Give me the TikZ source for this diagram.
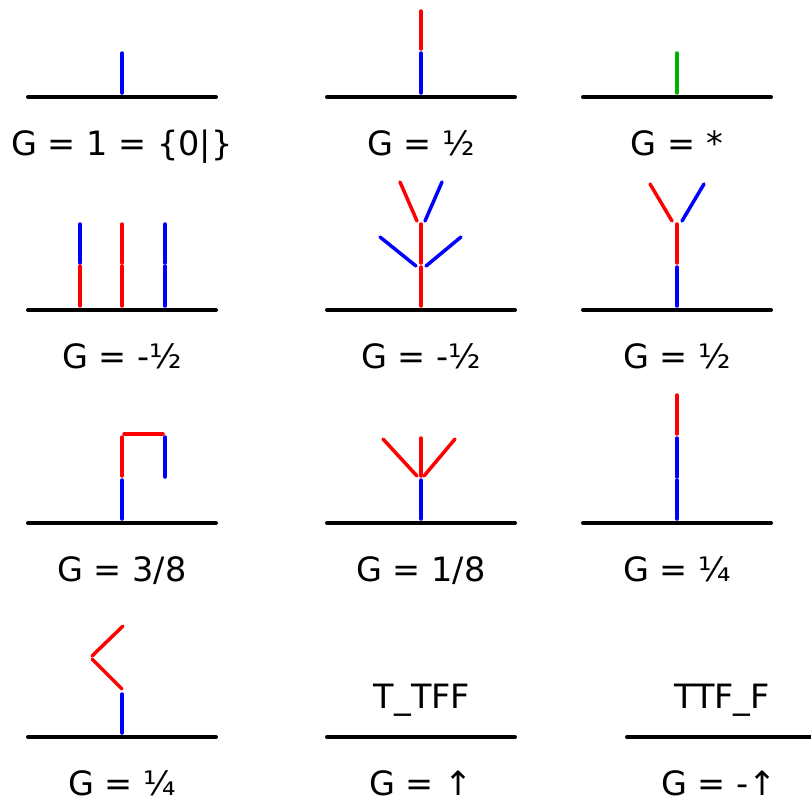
\documentclass[tikz,border=0pt]{standalone}
\usepackage{fontspec}
\setmainfont{DejaVu Sans}
\definecolor{stalkgreen}{RGB}{0,178,0}
\begin{document}
\begin{tikzpicture}[x=1pt,y=-1pt,
    ground/.style={line width=4pt, line cap=round},
    stalk/.style={line width=3.5pt, line cap=round},
    value/.style={anchor=base, inner sep=0pt, font=\fontsize{33.5}{40}\selectfont}]
    \useasboundingbox (0,0) rectangle (811,806);
    % ground lines
    \foreach \cx/\gy in {122/97, 421/97, 677/97, 122/310, 421/310, 677/310,
                         122/523, 421/523, 677/523, 122/737, 421/737, 721/737}
        \draw[ground] (\cx-94,\gy) -- (\cx+94,\gy);
    % blue edges
    \foreach \xa/\ya/\xb/\yb in {122/93/122/53, 421/93/421/53,
            80/263/80/224, 165/306/165/266, 165/263/165/224,
            416/266/380/237, 426/266/461/237, 425/221/442/182,
            677/306/677/267, 682/221/704/184,
            122/519/122/480, 165/437/165/477, 421/519/421/480,
            677/519/677/480, 677/477/677/438, 122/733/122/694}
        \draw[stalk, blue] (\xa,\ya) -- (\xb,\yb);
    % red edges
    \foreach \xa/\ya/\xb/\yb in {421/49/421/11,
            80/306/80/266, 122/306/122/266, 122/263/122/224,
            421/306/421/267, 421/263/421/224, 417/221/400/182,
            677/263/677/224, 672/221/650/184,
            122/476/122/437, 124/434/163/434,
            421/476/421/438, 417/476/383/439, 424/476/455/439,
            677/434/677/395, 122/689/92/659, 92/656/123/626}
        \draw[stalk, red] (\xa,\ya) -- (\xb,\yb);
    % green edge
    \draw[stalk, stalkgreen] (677,93) -- (677,53);
    % values
    \node[value] (val11) at (122,155) {G = 1 = \{0|\}};
    \node[value] (val12) at (421,155) {G = ½};
    \node[value] (val13) at (677,155) {G = *};
    \node[value] (val21) at (122,368) {G = -½};
    \node[value] (val22) at (421,368) {G = -½};
    \node[value] (val23) at (677,368) {G = ½};
    \node[value] (val31) at (122,581) {G = 3/8};
    \node[value] (val32) at (421,581) {G = 1/8};
    \node[value] (val33) at (677,581) {G = ¼};
    \node[value] (val41) at (122,795) {G = ¼};
    \node[value] (val42) at (421,795) {G = ↑};
    \node[value] (val43) at (719,795) {G = -↑};
    % positions written above the ground
    \node[value] (pos42) at (422,708) {T\_TFF};
    \node[value] (pos43) at (722,708) {TTF\_F};
\end{tikzpicture}
\end{document}
